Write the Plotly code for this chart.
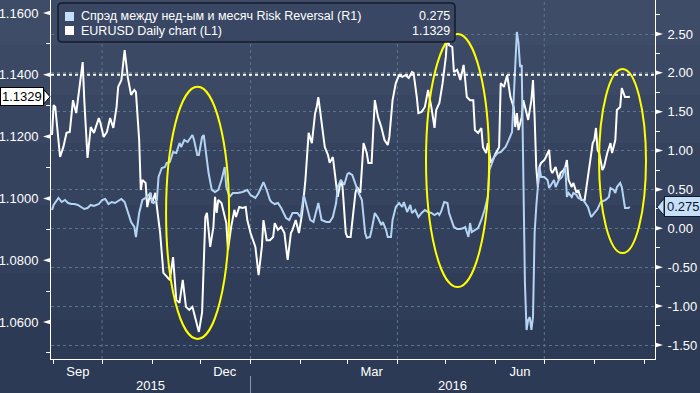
import plotly.graph_objects as go

# ---------------- data ----------------
rr_name = "Спрэд между нед-ым и месяч Risk Reversal (R1)"
eur_name = "EURUSD Daily chart (L1)"

eur_dates = [
    "2015-08-31", "2015-09-01", "2015-09-02", "2015-09-05", "2015-09-07", "2015-09-09", "2015-09-11", "2015-09-13", "2015-09-15", "2015-09-17", "2015-09-19", "2015-09-20", "2015-09-22", "2015-09-24", "2015-09-26", "2015-09-29", "2015-09-30",
    "2015-10-02", "2015-10-04", "2015-10-06", "2015-10-08", "2015-10-10", "2015-10-11", "2015-10-13", "2015-10-15", "2015-10-17", "2015-10-19", "2015-10-21", "2015-10-22", "2015-10-24", "2015-10-25", "2015-10-26", "2015-10-28", "2015-10-29", "2015-10-31",
    "2015-11-01", "2015-11-03", "2015-11-04", "2015-11-06", "2015-11-08", "2015-11-10", "2015-11-12", "2015-11-14", "2015-11-16", "2015-11-18", "2015-11-20", "2015-11-22", "2015-11-24", "2015-11-26", "2015-11-28", "2015-11-30",
    "2015-12-02", "2015-12-03", "2015-12-04", "2015-12-05", "2015-12-07", "2015-12-09", "2015-12-10", "2015-12-11", "2015-12-12", "2015-12-14", "2015-12-16", "2015-12-17", "2015-12-18", "2015-12-20", "2015-12-22", "2015-12-23", "2015-12-25", "2015-12-27", "2015-12-29", "2015-12-30",
    "2016-01-01", "2016-01-04", "2016-01-06", "2016-01-08", "2016-01-09", "2016-01-11", "2016-01-13", "2016-01-15", "2016-01-16", "2016-01-18", "2016-01-20", "2016-01-22", "2016-01-23", "2016-01-24", "2016-01-26", "2016-01-27", "2016-01-29", "2016-01-31",
    "2016-02-02", "2016-02-04", "2016-02-06", "2016-02-08", "2016-02-10", "2016-02-11", "2016-02-12", "2016-02-14", "2016-02-16", "2016-02-18", "2016-02-19", "2016-02-21", "2016-02-23", "2016-02-24", "2016-02-26", "2016-02-27", "2016-02-29",
    "2016-03-01", "2016-03-03", "2016-03-06", "2016-03-07", "2016-03-09", "2016-03-11", "2016-03-13", "2016-03-14", "2016-03-16", "2016-03-18", "2016-03-20", "2016-03-22", "2016-03-24", "2016-03-26", "2016-03-27", "2016-03-29", "2016-03-31",
    "2016-04-02", "2016-04-04", "2016-04-06", "2016-04-08", "2016-04-10", "2016-04-11", "2016-04-13", "2016-04-14", "2016-04-16", "2016-04-18", "2016-04-20", "2016-04-22", "2016-04-24", "2016-04-25", "2016-04-27", "2016-04-29",
    "2016-05-01", "2016-05-02", "2016-05-03", "2016-05-05", "2016-05-06", "2016-05-08", "2016-05-10", "2016-05-12", "2016-05-13", "2016-05-14", "2016-05-16", "2016-05-18", "2016-05-19", "2016-05-21", "2016-05-23", "2016-05-24", "2016-05-26", "2016-05-27", "2016-05-29", "2016-05-30",
    "2016-06-01", "2016-06-03", "2016-06-04", "2016-06-06", "2016-06-08", "2016-06-10", "2016-06-12", "2016-06-13", "2016-06-14", "2016-06-15", "2016-06-17", "2016-06-18", "2016-06-20", "2016-06-21", "2016-06-23", "2016-06-24", "2016-06-25", "2016-06-26", "2016-06-27", "2016-06-28", "2016-06-29",
    "2016-07-01", "2016-07-02", "2016-07-04", "2016-07-05", "2016-07-06", "2016-07-08", "2016-07-10", "2016-07-11", "2016-07-13", "2016-07-14", "2016-07-15", "2016-07-16", "2016-07-18", "2016-07-19", "2016-07-21", "2016-07-22", "2016-07-24", "2016-07-25", "2016-07-26", "2016-07-28", "2016-07-29", "2016-07-31",
    "2016-08-01", "2016-08-02", "2016-08-03", "2016-08-04", "2016-08-06", "2016-08-07", "2016-08-09", "2016-08-11", "2016-08-12", "2016-08-14", "2016-08-15", "2016-08-17", "2016-08-18", "2016-08-20", "2016-08-22", "2016-08-23",
]
eur_values = [
    1.1205, 1.1302, 1.1296, 1.1134, 1.1166, 1.1212, 1.1215, 1.1318, 1.1276, 1.1361, 1.1441, 1.1318, 1.1131, 1.1231, 1.1212, 1.1260, 1.1244,
    1.1199, 1.1215, 1.1260, 1.1228, 1.1296, 1.1361, 1.1383, 1.1480, 1.1390, 1.1335, 1.1351, 1.1344, 1.1189, 1.1027, 1.1060, 1.1050, 1.0972, 1.1018,
    1.0985, 1.1018, 1.0972, 1.0888, 1.0759, 1.0746, 1.0736, 1.0810, 1.0671, 1.0662, 1.0736, 1.0649, 1.0639, 1.0649, 1.0607, 1.0568,
    1.0632, 1.0759, 1.0940, 1.0953, 1.0843, 1.0908, 1.1005, 1.0953, 1.0995, 1.0985, 1.0940, 1.0920, 1.0833, 1.0908, 1.0963, 1.0940, 1.0972, 1.0969, 1.0972, 1.0930,
    1.0888, 1.0843, 1.0752, 1.0843, 1.0930, 1.0865, 1.0865, 1.0875, 1.0920, 1.0898, 1.0908, 1.0888, 1.0843, 1.0801, 1.0888, 1.0898, 1.0930, 1.0888,
    1.0953, 1.1060, 1.1212, 1.1179, 1.1276, 1.1296, 1.1328, 1.1254, 1.1166, 1.1140, 1.1115, 1.1134, 1.1037, 1.1005, 1.1060, 1.1037, 1.0888,
    1.0875, 1.0875, 1.1018, 1.1037, 1.1018, 1.1179, 1.1147, 1.1115, 1.1115, 1.1318, 1.1263, 1.1231, 1.1189, 1.1173, 1.1199, 1.1318, 1.1373,
    1.1399, 1.1393, 1.1399, 1.1390, 1.1409, 1.1406, 1.1328, 1.1276, 1.1280, 1.1296, 1.1351, 1.1296, 1.1228, 1.1286, 1.1309, 1.1373,
    1.1458, 1.1535, 1.1496, 1.1490, 1.1409, 1.1416, 1.1383, 1.1432, 1.1383, 1.1328, 1.1318, 1.1318, 1.1221, 1.1212, 1.1228, 1.1166, 1.1147, 1.1179, 1.1115, 1.1124,
    1.1147, 1.1166, 1.1373, 1.1361, 1.1399, 1.1328, 1.1296, 1.1231, 1.1276, 1.1221, 1.1263, 1.1318, 1.1276, 1.1254, 1.1318, 1.1383, 1.1263, 1.1102, 1.1037, 1.1102, 1.1115,
    1.1124, 1.1134, 1.1157, 1.1092, 1.1082, 1.1102, 1.1060, 1.1082, 1.1092, 1.1102, 1.1124, 1.1060, 1.1037, 1.1050, 1.1018, 1.1027, 1.0995, 1.0995, 1.0995, 1.1069, 1.1102, 1.1179,
    1.1189, 1.1228, 1.1157, 1.1147, 1.1092, 1.1102, 1.1147, 1.1179, 1.1147, 1.1189, 1.1286, 1.1296, 1.1357, 1.1328, 1.1328, 1.1329,
]

rr_dates = [
    "2015-08-31", "2015-09-01", "2015-09-04", "2015-09-06", "2015-09-08", "2015-09-10", "2015-09-12", "2015-09-14", "2015-09-16", "2015-09-18", "2015-09-20", "2015-09-22", "2015-09-24", "2015-09-26", "2015-09-29",
    "2015-10-01", "2015-10-03", "2015-10-05", "2015-10-07", "2015-10-09", "2015-10-11", "2015-10-13", "2015-10-15", "2015-10-17", "2015-10-19", "2015-10-21", "2015-10-22", "2015-10-24", "2015-10-26", "2015-10-28", "2015-10-31",
    "2015-11-01", "2015-11-02", "2015-11-04", "2015-11-05", "2015-11-07", "2015-11-09", "2015-11-10", "2015-11-12", "2015-11-13", "2015-11-14", "2015-11-16", "2015-11-18", "2015-11-19", "2015-11-21", "2015-11-23", "2015-11-25", "2015-11-26", "2015-11-27", "2015-11-29", "2015-11-30",
    "2015-12-02", "2015-12-03", "2015-12-05", "2015-12-06", "2015-12-08", "2015-12-10", "2015-12-12", "2015-12-14", "2015-12-16", "2015-12-17", "2015-12-19", "2015-12-21", "2015-12-24", "2015-12-27", "2015-12-30",
    "2016-01-01", "2016-01-04", "2016-01-06", "2016-01-09", "2016-01-11", "2016-01-13", "2016-01-14", "2016-01-16", "2016-01-18", "2016-01-20", "2016-01-23", "2016-01-25", "2016-01-27", "2016-01-30",
    "2016-02-01", "2016-02-03", "2016-02-05", "2016-02-07", "2016-02-09", "2016-02-11", "2016-02-12", "2016-02-14", "2016-02-17", "2016-02-19", "2016-02-21", "2016-02-23", "2016-02-24", "2016-02-26", "2016-02-28",
    "2016-03-01", "2016-03-02", "2016-03-04", "2016-03-05", "2016-03-06", "2016-03-08", "2016-03-10", "2016-03-11", "2016-03-12", "2016-03-13", "2016-03-15", "2016-03-16", "2016-03-18", "2016-03-20", "2016-03-22", "2016-03-23", "2016-03-25", "2016-03-26", "2016-03-28", "2016-03-29", "2016-03-31",
    "2016-04-02", "2016-04-04", "2016-04-05", "2016-04-07", "2016-04-09", "2016-04-10", "2016-04-12", "2016-04-14", "2016-04-16", "2016-04-18", "2016-04-20", "2016-04-22", "2016-04-24", "2016-04-26", "2016-04-27", "2016-04-28", "2016-04-30",
    "2016-05-02", "2016-05-03", "2016-05-06", "2016-05-08", "2016-05-10", "2016-05-12", "2016-05-13", "2016-05-15", "2016-05-16", "2016-05-17", "2016-05-19", "2016-05-21", "2016-05-23", "2016-05-25", "2016-05-27", "2016-05-28", "2016-05-31",
    "2016-06-02", "2016-06-04", "2016-06-07", "2016-06-09", "2016-06-11", "2016-06-12", "2016-06-13", "2016-06-14", "2016-06-15", "2016-06-16", "2016-06-17", "2016-06-18", "2016-06-19", "2016-06-20", "2016-06-21", "2016-06-22", "2016-06-23", "2016-06-24", "2016-06-25", "2016-06-26", "2016-06-27", "2016-06-28", "2016-06-29",
    "2016-07-01", "2016-07-03", "2016-07-04", "2016-07-07", "2016-07-08", "2016-07-10", "2016-07-12", "2016-07-14", "2016-07-15", "2016-07-16", "2016-07-18", "2016-07-19", "2016-07-21", "2016-07-22", "2016-07-24", "2016-07-25", "2016-07-26", "2016-07-28", "2016-07-30",
    "2016-08-01", "2016-08-03", "2016-08-05", "2016-08-08", "2016-08-10", "2016-08-11", "2016-08-13", "2016-08-14", "2016-08-15", "2016-08-17", "2016-08-18", "2016-08-19", "2016-08-20", "2016-08-22", "2016-08-23",
]
rr_values = [
    0.236, 0.301, 0.391, 0.339, 0.365, 0.326, 0.313, 0.313, 0.301, 0.275, 0.249, 0.262, 0.301, 0.288, 0.313,
    0.365, 0.378, 0.313, 0.339, 0.326, 0.352, 0.378, 0.339, 0.198, 0.082, 0.018, -0.111, 0.198, 0.365, 0.391, 0.455,
    0.339, 0.326, 0.365, 0.661, 0.777, 0.789, 0.841, 0.854, 0.918, 0.982, 0.969, 1.098, 1.047, 1.137, 1.111, 1.175, 1.201, 1.137, 0.944, 0.944,
    1.175, 1.201, 0.879, 0.712, 0.494, 0.468, 0.494, 0.622, 0.789, 0.532, 0.404, 0.455, 0.455, 0.468, 0.494,
    0.429, 0.391, 0.455, 0.596, 0.494, 0.365, 0.339, 0.313, 0.326, 0.262, 0.133, 0.108, 0.198, 0.198,
    0.146, 0.429, 0.275, 0.108, 0.082, 0.275, 0.326, 0.108, 0.082, 0.082, 0.146, 0.326, 0.532, 0.622, 0.558,
    0.699, 0.712, 0.687, 0.622, 0.558, 0.455, 0.365, 0.108, -0.059, -0.124, -0.111, -0.021, 0.198, 0.133, 0.043, 0.082, -0.021, -0.111, -0.111, 0.108, 0.275,
    0.326, 0.275, 0.339, 0.211, 0.301, 0.198, 0.236, 0.146, 0.198, 0.236, 0.211, 0.198, 0.172, 0.198, 0.172, 0.211, 0.339,
    0.326, 0.198, 0.018, -0.008, -0.008, 0.005, 0.018, -0.111, 0.069, -0.047, -0.021, 0.005, 0.108, 0.236, 0.404, 0.751, 0.918,
    0.969, 0.982, 1.047, 1.137, 1.240, 1.651, 2.076, 2.526, 2.384, 2.076, 2.101, 0.584, -0.703, -1.307, -1.178, -1.140, -1.307, -1.140, -0.059, 0.275, 0.532, 0.789, 0.661,
    0.661, 0.622, 0.519, 0.622, 0.532, 0.622, 0.661, 0.789, 0.404, 0.455, 0.404, 0.455, 0.429, 0.391, 0.378, 0.365, 0.339, 0.275, 0.146,
    0.198, 0.249, 0.339, 0.365, 0.404, 0.519, 0.494, 0.455, 0.532, 0.584, 0.532, 0.365, 0.262, 0.262, 0.275,
]

left_tickvals = [1.06, 1.08, 1.10, 1.12, 1.14, 1.16]
left_ticktext = ["1.0600", "1.0800", "1.1000", "1.1200", "1.1400", "1.1600"]
left_minor = [1.05, 1.07, 1.09, 1.11, 1.13, 1.15]
right_tickvals = [-1.5, -1.0, -0.5, 0.0, 0.5, 1.0, 1.5, 2.0, 2.5]
right_ticktext = ["-1.50", "-1.00", "-0.50", "0.00", "0.50", "1.00", "1.50", "2.00", "2.50"]
right_minor = [-1.25, -0.75, -0.25, 0.25, 0.75, 1.25, 1.75, 2.25, 2.75]
month_starts = ["2015-09-01", "2015-10-01", "2015-11-01", "2015-12-01", "2016-01-01", "2016-02-01",
                "2016-03-01", "2016-04-01", "2016-05-01", "2016-06-01", "2016-07-01", "2016-08-01", "2016-09-01"]
month_label_dates = ["2015-09-16", "2015-12-16", "2016-03-16", "2016-06-16"]
month_labels = ["Sep", "Dec", "Mar", "Jun"]
quarter_lines = ["2015-10-01", "2016-01-01", "2016-04-01", "2016-07-01"]
year_label_dates = ["2015-10-31", "2016-05-05"]
year_labels = ["2015", "2016"]
year_split = "2016-01-01"
reference_level = 1.14
# highlighted regions (x0, x1, y0, y1) on the EURUSD axis
highlights = [
    ("2015-11-09 16:00", "2015-12-18 17:00", 1.0545, 1.1361),
    ("2016-04-18 17:00", "2016-05-27 19:00", 1.0713, 1.1532),
    ("2016-08-03 22:00", "2016-09-02 00:00", 1.0823, 1.1419),
]

# ---------------- style ----------------
FONT = "Liberation Sans, Arial, sans-serif"
RR_COLOR = "#b4d4f4"
RR_SWATCH = "#c4defd"
EUR_COLOR = "#ffffff"
GRID = "#58758f"

W, H = 700, 393
ML, MR, MT, MB = 51, 45, 0, 34
PW, PH = W - ML - MR, H - MT - MB


def px_x(px):
    return (px - ML) / PW


def px_y(py):
    return (H - MB - py) / PH


fig = go.Figure()
fig.add_trace(go.Scatter(x=rr_dates, y=rr_values, name=rr_name, mode="lines",
                         line=dict(color=RR_COLOR, width=2), yaxis="y2"))
fig.add_trace(go.Scatter(x=eur_dates, y=eur_values, name=eur_name, mode="lines",
                         line=dict(color=EUR_COLOR, width=2), yaxis="y"))

shapes = []
# background gradient bands
bands = [(0, 45, "#3f4c68"), (45, 95, "#3c4965"), (95, 143, "#394662"), (143, 205, "#36435f"),
         (205, 273, "#33405b"), (273, 320, "#303d58"), (320, 393, "#2d3a55")]
for y0, y1, c in bands:
    shapes.append(dict(type="rect", xref="paper", yref="paper", x0=px_x(0), x1=px_x(W),
                       y0=px_y(y1), y1=px_y(y0), fillcolor=c, line=dict(width=0), layer="below"))
# vertical quarter grid lines
for d in quarter_lines:
    shapes.append(dict(type="line", xref="x", yref="paper", x0=d, x1=d, y0=0, y1=1,
                       line=dict(color=GRID, width=1, dash="3px,3px"), layer="below"))
# year separator
shapes.append(dict(type="line", xref="x", yref="paper", x0=year_split, x1=year_split,
                   y0=px_y(376), y1=px_y(393), line=dict(color="#8d97a8", width=1)))
# reference dotted line
shapes.append(dict(type="line", xref="paper", yref="y", x0=0, x1=1, y0=reference_level, y1=reference_level,
                   line=dict(color="white", width=2, dash="dot")))
# highlight ellipses
for x0, x1, y0, y1 in highlights:
    shapes.append(dict(type="circle", xref="x", yref="y", x0=x0, x1=x1, y0=y0, y1=y1,
                       line=dict(color="#ffff00", width=2)))
# tick triangles
for v in left_tickvals:
    shapes.append(dict(type="path", xref="paper", xsizemode="pixel", xanchor=0, yref="y",
                       ysizemode="pixel", yanchor=v, path="M 0,-2.5 L -8,0 L 0,2.5 Z",
                       fillcolor="white", line=dict(width=0)))
for v in right_tickvals:
    shapes.append(dict(type="path", xref="paper", xsizemode="pixel", xanchor=1, yref="y2",
                       ysizemode="pixel", yanchor=v, path="M 0,-2.5 L 8,0 L 0,2.5 Z",
                       fillcolor="white", line=dict(width=0)))
# last-value tag pointers
shapes.append(dict(type="path", xref="paper", xsizemode="pixel", xanchor=0, yref="y",
                   ysizemode="pixel", yanchor=eur_values[-1], path="M -7,-7 L -1,0 L -7,7 Z",
                   fillcolor="white", line=dict(color="black", width=1)))
shapes.append(dict(type="path", xref="paper", xsizemode="pixel", xanchor=1, yref="y2",
                   ysizemode="pixel", yanchor=rr_values[-1], path="M 9,-8.5 L 2,0 L 9,8.5 Z",
                   fillcolor="#c6dff8", line=dict(color="#111a2a", width=1)))


# legend box (rounded)
def rounded(x0, y0, x1, y1, r):
    X0, X1 = px_x(x0), px_x(x1)
    Y0, Y1 = px_y(y0), px_y(y1)
    rx, ry = r / PW, r / PH
    return (f"M {X0+rx},{Y0} L {X1-rx},{Y0} Q {X1},{Y0} {X1},{Y0-ry} L {X1},{Y1+ry} "
            f"Q {X1},{Y1} {X1-rx},{Y1} L {X0+rx},{Y1} Q {X0},{Y1} {X0},{Y1+ry} "
            f"L {X0},{Y0-ry} Q {X0},{Y0} {X0+rx},{Y0} Z")


shapes.append(dict(type="path", xref="paper", yref="paper", path=rounded(58, 3, 455, 42, 4),
                   fillcolor="#3a4764", line=dict(color="#141b29", width=1.5)))
shapes.append(dict(type="rect", xref="paper", yref="paper", x0=px_x(65), x1=px_x(74),
                   y0=px_y(21), y1=px_y(12), fillcolor=RR_SWATCH, line=dict(width=0)))
shapes.append(dict(type="rect", xref="paper", yref="paper", x0=px_x(65), x1=px_x(74),
                   y0=px_y(35), y1=px_y(26), fillcolor="white", line=dict(width=0)))

annotations = []
leg_font = dict(family=FONT, size=12.5, color="white")
annotations.append(dict(xref="paper", yref="paper", x=px_x(79), y=px_y(16.5), xanchor="left",
                        yanchor="middle", text=rr_name, showarrow=False, font=leg_font))
annotations.append(dict(xref="paper", yref="paper", x=px_x(79), y=px_y(30.5), xanchor="left",
                        yanchor="middle", text=eur_name, showarrow=False, font=leg_font))
annotations.append(dict(xref="paper", yref="paper", x=px_x(452), y=px_y(16.5), xanchor="right",
                        yanchor="middle", text=f"{rr_values[-1]:.3f}", showarrow=False, font=leg_font))
annotations.append(dict(xref="paper", yref="paper", x=px_x(452), y=px_y(30.5), xanchor="right",
                        yanchor="middle", text=f"{eur_values[-1]:.4f}", showarrow=False, font=leg_font))
# year labels
for d, t in zip(year_label_dates, year_labels):
    annotations.append(dict(xref="x", yref="paper", x=d, y=px_y(385), xanchor="center", yanchor="middle",
                            text=t, showarrow=False, font=dict(family=FONT, size=13, color="white")))
# last-value tags
annotations.append(dict(xref="paper", yref="y", x=0, y=eur_values[-1], xanchor="right", yanchor="middle",
                        xshift=-7, text=f"{eur_values[-1]:.4f}", showarrow=False,
                        bgcolor="white", bordercolor="black", borderwidth=1, borderpad=1,
                        font=dict(family=FONT, size=13, color="black")))
annotations.append(dict(xref="paper", yref="y2", x=1, y=rr_values[-1], xanchor="left", yanchor="middle",
                        xshift=9, text=f"{rr_values[-1]:.3f}", showarrow=False,
                        bgcolor="#c6dff8", bordercolor="#111a2a", borderwidth=1, borderpad=2,
                        font=dict(family=FONT, size=13, color="#0c1626")))

fig.update_layout(
    width=W, height=H,
    margin=dict(l=ML, r=MR, t=MT, b=MB, autoexpand=False),
    paper_bgcolor="#2d3a55", plot_bgcolor="rgba(0,0,0,0)",
    showlegend=False,
    font=dict(family=FONT, size=13, color="white"),
    xaxis=dict(type="date", range=["2015-08-30 09:00", "2016-09-07 14:00"],
               showline=True, linecolor="white", linewidth=1, mirror=False,
               tickmode="array", tickvals=month_label_dates, ticktext=month_labels,
               ticks="", showgrid=False, zeroline=False,
               tickfont=dict(family=FONT, size=13, color="white"),
               minor=dict(tickmode="array", tickvals=month_starts, ticks="outside", ticklen=4,
                          tickcolor="white", showgrid=False)),
    yaxis=dict(range=[1.04803, 1.16421], side="left", showline=True, linecolor="white", linewidth=1,
               tickmode="array", tickvals=left_tickvals, ticktext=left_ticktext,
               ticks="outside", ticklen=9, tickcolor="rgba(0,0,0,0)", showgrid=False, zeroline=False,
               tickfont=dict(family=FONT, size=13, color="white"),
               minor=dict(tickmode="array", tickvals=left_minor, ticks="outside", ticklen=4,
                          tickcolor="white", showgrid=False)),
    yaxis2=dict(range=[-1.6801, 2.9373], side="right", overlaying="y", showline=True, linecolor="white",
                linewidth=1, tickmode="array", tickvals=right_tickvals, ticktext=right_ticktext,
                ticks="outside", ticklen=9, tickcolor="rgba(0,0,0,0)",
                showgrid=True, gridcolor=GRID, griddash="3px,3px", gridwidth=1, zeroline=False,
                tickfont=dict(family=FONT, size=13, color="white"),
                minor=dict(tickmode="array", tickvals=right_minor, ticks="outside", ticklen=4,
                           tickcolor="white", showgrid=False)),
    shapes=shapes,
    annotations=annotations,
)

fig.write_html("out.html", config={"displayModeBar": False},
               post_script="document.body.style.margin='0';document.body.style.overflow='hidden';")
